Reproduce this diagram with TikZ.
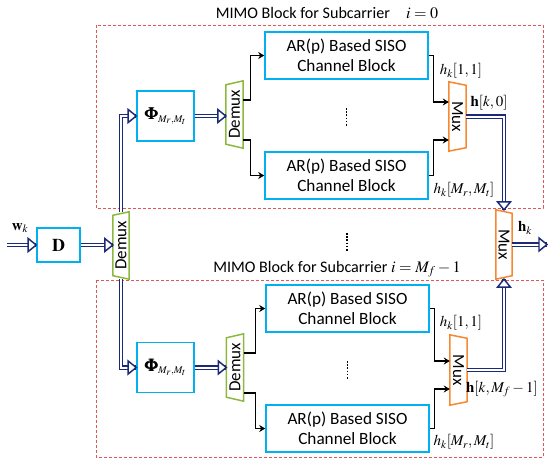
\documentclass[tikz,border=0pt]{standalone}
\usepackage{mathptmx}
\usepackage{bm}
\usepackage[no-math]{fontspec}
\setmainfont{Carlito}
\usetikzlibrary{arrows.meta,calc}
\definecolor{navy}{HTML}{1A2A78}
\definecolor{cyanb}{HTML}{00B0F0}
\definecolor{greenb}{HTML}{8DB83F}
\definecolor{orangeb}{HTML}{F7882F}
\definecolor{redd}{HTML}{E05555}
\newcommand{\ftitle}{\fontsize{16.1}{18}\selectfont}
\newcommand{\farbox}{\fontsize{17.2}{20.5}\selectfont}
\newcommand{\frot}{\fontsize{17}{18}\selectfont}
\newcommand{\fmath}{\fontsize{15}{16}\selectfont}
\newcommand{\tipRight}[1]{\path[tiplook] ($#1+(-8,-6.5)$) -- #1 -- ($#1+(-8,6.5)$) -- cycle;}
\newcommand{\tipUp}[1]{\path[tiplook] ($#1+(-6.5,8)$) -- #1 -- ($#1+(6.5,8)$) -- cycle;}
\newcommand{\tipDown}[1]{\path[tiplook] ($#1+(-6.5,-8)$) -- #1 -- ($#1+(6.5,-8)$) -- cycle;}
\tikzset{
  arbox/.style={draw=cyanb, line width=1.6pt, minimum width=163pt, minimum height=47pt, align=center, font=\farbox, inner sep=0pt},
  bluebox/.style={draw=cyanb, line width=1.6pt, inner sep=0pt, font=\fmath},
  tz/.style={inner sep=0pt, font=\frot},
  demuxline/.style={draw=greenb, line width=1.5pt},
  muxline/.style={draw=orangeb, line width=1.5pt},
  dbl/.style={draw=navy, line width=1.45pt, double=white, double distance=2pt},
  tiplook/.style={draw=navy, line width=1.45pt, fill=white, line join=miter},
  blk/.style={draw=black, line width=1.3pt, -{Stealth[length=6pt,width=7pt]}},
  region/.style={draw=redd, line width=0.8pt, dash pattern=on 3pt off 2pt},
  lbl/.style={inner sep=0pt, font=\fmath},
  vdots/.style={line width=1.8pt, dash pattern=on 1.6pt off 1.6pt},
}
\begin{document}
\begin{tikzpicture}[x=1pt,y=-1pt]
\useasboundingbox (0,0) rectangle (550,467);
% regions
\draw[region] (96,25) rectangle (543,208);
\draw[region] (96,280) rectangle (543,457);
\node[lbl, font=\ftitle] (t1) at (327,13) {MIMO Block for Subcarrier\quad $i=0$};
\node[lbl, font=\ftitle] (t2) at (337,269) {MIMO Block for Subcarrier $i=M_f-1$};
% input
\node[bluebox, minimum width=43pt, minimum height=34pt, font=\fontsize{18}{18}\selectfont] (D) at (58.5,245) {$\mathbf{D}$};
\coordinate (win) at (7,245);
\node[lbl] (wl) at (20,228) {$\mathbf{w}_k$};
% big demux
\node[tz, minimum width=16pt, minimum height=67pt] (bd) at (121,245.5) {\rotatebox{90}{Demux}};
\draw[demuxline] ($(bd.north west)+(0,3.5)$) -- (bd.north east) -- (bd.south east) -- ($(bd.south west)+(0,-3.5)$) -- cycle;
% phi boxes
\node[bluebox, minimum width=57pt, minimum height=50pt, font=\fontsize{17}{18}\selectfont] (phi1) at (165.5,116) {$\bm{\Phi}_{\scriptscriptstyle M_r,M_t}$};
\node[bluebox, minimum width=57pt, minimum height=50pt, font=\fontsize{17}{18}\selectfont] (phi2) at (165.5,367.5) {$\bm{\Phi}_{\scriptscriptstyle M_r,M_t}$};
% small demuxes
\node[tz, minimum width=17pt, minimum height=67pt] (sd1) at (234.5,114.5) {\rotatebox{90}{Demux}};
\draw[demuxline] ($(sd1.north west)+(0,4)$) -- (sd1.north east) -- (sd1.south east) -- ($(sd1.south west)+(0,-4)$) -- cycle;
\node[tz, minimum width=17pt, minimum height=67pt] (sd2) at (235,367.5) {\rotatebox{90}{Demux}};
\draw[demuxline] ($(sd2.north west)+(0,4)$) -- (sd2.north east) -- (sd2.south east) -- ($(sd2.south west)+(0,-4)$) -- cycle;
% AR boxes
\node[arbox] (ar11) at (346.5,55.5) {AR(p) Based SISO\\Channel Block};
\node[arbox] (ar12) at (346.5,175.5) {AR(p) Based SISO\\Channel Block};
\node[arbox] (ar21) at (347.5,308.5) {AR(p) Based SISO\\Channel Block};
\node[arbox] (ar22) at (347.5,428.5) {AR(p) Based SISO\\Channel Block};
% dots
\draw[vdots] (346.5,108) -- (346.5,126);
\draw[vdots] (347,233) -- (347,251);
\draw[vdots] (347.5,361) -- (347.5,379);
% muxes
\node[tz, minimum width=17pt, minimum height=69pt] (mx1) at (457.5,116.5) {\rotatebox{-90}{Mux}};
\draw[muxline] (mx1.north west) -- ($(mx1.north east)+(0,3.5)$) -- ($(mx1.south east)+(0,-3.5)$) -- (mx1.south west) -- cycle;
\node[tz, minimum width=17pt, minimum height=70pt] (mx2) at (458.5,370) {\rotatebox{-90}{Mux}};
\draw[muxline] (mx2.north west) -- ($(mx2.north east)+(0,3.5)$) -- ($(mx2.south east)+(0,-3.5)$) -- (mx2.south west) -- cycle;
\node[tz, minimum width=16pt, minimum height=69pt] (bm) at (504,244.5) {\rotatebox{-90}{Mux}};
\draw[muxline] (bm.north west) -- ($(bm.north east)+(0,3.5)$) -- ($(bm.south east)+(0,-3.5)$) -- (bm.south west) -- cycle;
\coordinate (hout) at (547,244.5);
% double connectors
\draw[dbl] (win) -- (D.west);
\draw[dbl] (D.east) -- (D.east -| bd.west);
\draw[dbl] (bd.north) |- (phi1.west);
\draw[dbl] (bd.south) |- (phi2.west);
\draw[dbl] (phi1.east) -- (phi1.east -| sd1.west);
\draw[dbl] (phi2.east) -- (phi2.east -| sd2.west);
\draw[dbl] (mx1.east) -| (bm.north);
\draw[dbl] (mx2.east) -| (bm.south);
\draw[dbl] (bm.east) -- (hout);
\tipRight{(D.west)}
\tipRight{(D.east -| bd.west)}
\tipRight{(phi1.west)}
\tipRight{(phi2.west)}
\tipRight{(phi1.east -| sd1.west)}
\tipRight{(phi2.east -| sd2.west)}
\tipDown{(bm.north)}
\tipUp{(bm.south)}
\tipRight{(hout)}
% black connectors
\draw[blk] ($(sd1.east)+(0,-14.5)$) -- ++(7,0) |- (ar11.west);
\draw[blk] ($(sd1.east)+(0,25.5)$) -- ++(7,0) |- (ar12.west);
\draw[blk] ($(sd2.east)+(0,-14.5)$) -- ++(12,0) |- (ar21.west);
\draw[blk] ($(sd2.east)+(0,25.5)$) -- ++(12,0) |- (ar22.west);
\draw[blk] (ar11.east) -- ++(5,0) |- ($(mx1.west)+(0,-14.5)$);
\draw[blk] (ar12.east) -- ++(5,0) |- ($(mx1.west)+(0,23.5)$);
\draw[blk] (ar21.east) -- ++(5,0) |- ($(mx2.west)+(0,-9)$);
\draw[blk] (ar22.east) -- ++(5,0) |- ($(mx2.west)+(0,19)$);
% labels
\node[lbl] (l1) at (461,71) {$h_k[1,1]$};
\node[lbl] (l2) at (489,103) {$\mathbf{h}[k,0]$};
\node[lbl] (l3) at (464,190) {$h_k[M_r,M_t]$};
\node[lbl] (l4) at (461,323) {$h_k[1,1]$};
\node[lbl] (l5) at (502,389) {$\mathbf{h}[k,M_f-1]$};
\node[lbl] (l6) at (464,442) {$h_k[M_r,M_t]$};
\node[lbl] (l7) at (525,228) {$\mathbf{h}_k$};
\end{tikzpicture}
\end{document}
